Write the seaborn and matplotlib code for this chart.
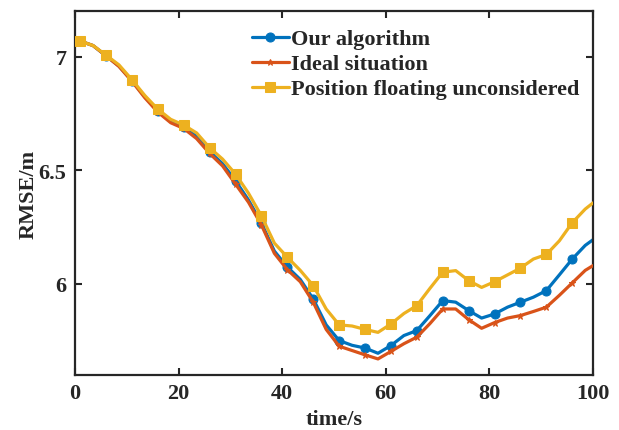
import numpy as np
import pandas as pd
import seaborn as sns
import matplotlib
matplotlib.use("Agg")
import matplotlib.pyplot as plt

time_s = [1, 3.5, 6, 8.5, 11, 13.5, 16, 18.5, 21, 23.5, 26, 28.5, 31, 33.5, 36, 38.5,
          41, 43.5, 46, 48.5, 51, 53.5, 56, 58.5, 61, 63.5, 66, 68.5, 71, 73.5, 76, 78.5,
          81, 83.5, 86, 88.5, 91, 93.5, 96, 98.5, 100]

our_algorithm = [7.07, 7.05, 7.005, 6.96, 6.895, 6.825, 6.76, 6.715, 6.69, 6.65, 6.583, 6.53,
                 6.455, 6.37, 6.269, 6.145, 6.075, 6.02, 5.934, 5.82, 5.751, 5.73, 5.718, 5.695,
                 5.729, 5.773, 5.795, 5.86, 5.927, 5.92, 5.883, 5.85, 5.868, 5.898, 5.92, 5.942,
                 5.971, 6.04, 6.11, 6.17, 6.195]

ideal_situation = [7.07, 7.05, 7.005, 6.958, 6.893, 6.82, 6.757, 6.71, 6.685, 6.64, 6.575, 6.52,
                   6.44, 6.36, 6.26, 6.135, 6.063, 6.01, 5.92, 5.80, 5.726, 5.707, 5.688, 5.67,
                   5.703, 5.737, 5.766, 5.825, 5.89, 5.89, 5.843, 5.805, 5.83, 5.85, 5.861, 5.879,
                   5.898, 5.95, 6.005, 6.06, 6.081]

position_floating = [7.07, 7.05, 7.008, 6.965, 6.90, 6.83, 6.77, 6.725, 6.70, 6.665, 6.60, 6.55,
                     6.484, 6.40, 6.30, 6.18, 6.118, 6.06, 5.993, 5.89, 5.82, 5.815, 5.80, 5.787,
                     5.824, 5.87, 5.905, 5.98, 6.052, 6.059, 6.015, 5.985, 6.01, 6.04, 6.07, 6.11,
                     6.13, 6.19, 6.27, 6.33, 6.357]

series_names = ["Our algorithm", "Ideal situation", "Position floating unconsidered"]
x_ticks = [0, 20, 40, 60, 80, 100]
y_ticks = [6, 6.5, 7]
y_tick_labels = ["6", "6.5", "7"]

sns.set_style("white")
plt.rcParams['font.family'] = ['Liberation Serif', 'DejaVu Serif']
plt.rcParams['font.weight'] = 'bold'

fig = plt.figure(figsize=(6.19, 4.31), dpi=100)
ax = fig.add_axes([0.121, 0.128, 0.837, 0.843])

colors = ["#0072BD", "#D95319", "#EDB120"]
markers = ["o", "*", "s"]
msizes = [6.5, 4.5, 6.5]
data_list = [our_algorithm, ideal_situation, position_floating]
order = [2, 0, 1]
for i in order:
    df = pd.DataFrame({"time": time_s, "rmse": data_list[i]})
    sns.lineplot(data=df, x="time", y="rmse", ax=ax, color=colors[i], linewidth=2.3,
                 marker=markers[i], markersize=msizes[i], markeredgecolor=colors[i],
                 markerfacecolor=colors[i], markevery=slice(0, 40, 2), label=series_names[i],
                 zorder=2 + i)

ax.set_xlim(0, 100)
ax.set_ylim(5.6, 7.2)
ax.set_xticks(x_ticks)
ax.set_xticklabels([str(t) for t in x_ticks])
ax.set_yticks(y_ticks)
ax.set_yticklabels(y_tick_labels)
ax.tick_params(direction="in", length=5, width=1.5, labelsize=16, top=True, right=True,
               bottom=True, left=True, pad=6)
for lab in ax.get_xticklabels() + ax.get_yticklabels():
    lab.set_fontweight("bold")
for sp in ax.spines.values():
    sp.set_linewidth(1.6)
    sp.set_color("#262626")
ax.set_xlabel("time/s", fontsize=16, fontweight="bold", labelpad=4)
ax.set_ylabel("RMSE/m", fontsize=16, fontweight="bold", labelpad=0)

h, l = ax.get_legend_handles_labels()
lmap = dict(zip(l, h))
leg = ax.legend([lmap[n] for n in series_names], series_names, loc="upper left",
                bbox_to_anchor=(0.312, 0.995), frameon=False,
                prop={"weight": "bold", "size": 16}, handlelength=1.65, handletextpad=0.12,
                labelspacing=0.2, borderaxespad=0.3)

fig.savefig("out.png", dpi=100, facecolor="white")
